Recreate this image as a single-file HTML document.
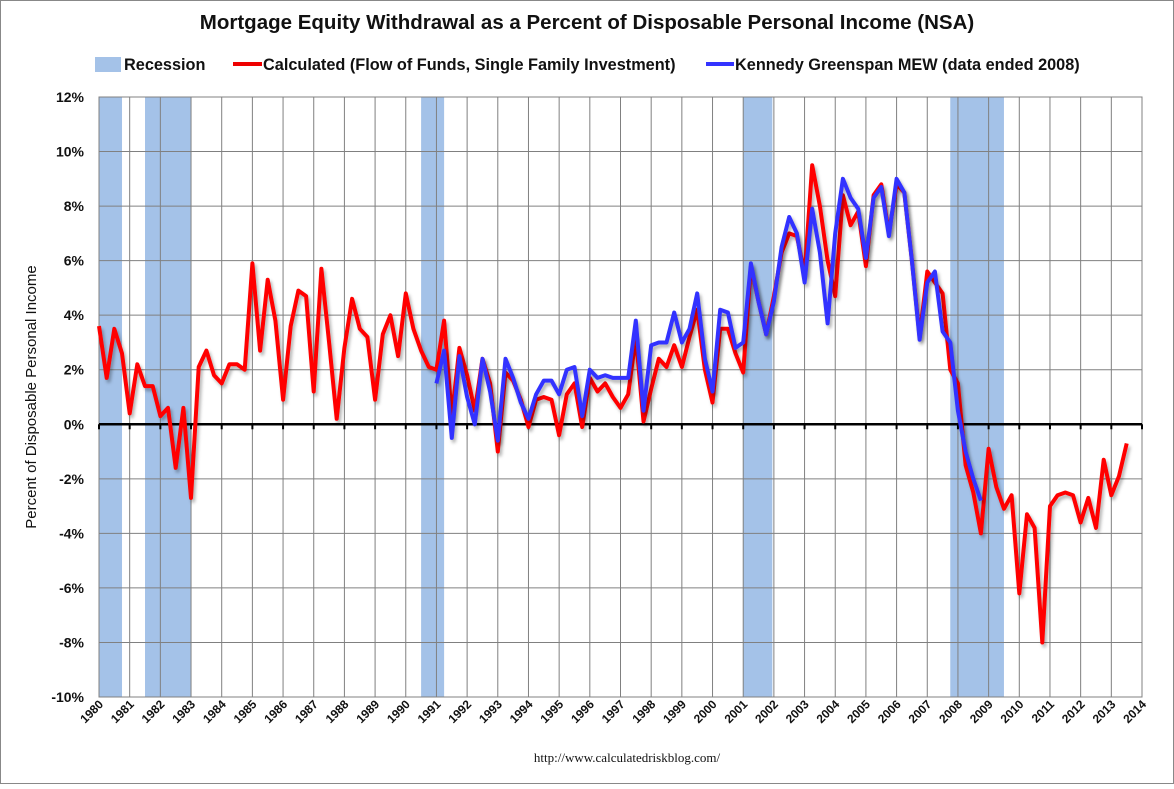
<!DOCTYPE html>
<html><head><meta charset="utf-8">
<style>
html,body{margin:0;padding:0;background:#fff;}
body{width:1174px;height:784px;overflow:hidden;font-family:"Liberation Sans",sans-serif;}
svg text{font-family:"Liberation Sans",sans-serif;}
</style></head>
<body>
<svg id="chart" width="1174" height="784" viewBox="0 0 1174 784" xmlns="http://www.w3.org/2000/svg">
<defs>
<filter id="sh" x="-5%" y="-5%" width="110%" height="110%"><feDropShadow dx="2" dy="3" stdDeviation="1.5" flood-color="#000" flood-opacity="0.3"/></filter>
</defs>
<rect x="0.5" y="0.5" width="1173" height="783" fill="#fff" stroke="#888"/>
<text x="587" y="29" text-anchor="middle" font-size="20.5" font-weight="bold" fill="#111">Mortgage Equity Withdrawal as a Percent of Disposable Personal Income (NSA)</text>
<g>
 <g><rect x="95" y="57" width="26" height="15" fill="#a4c2e8"/><text x="124" y="70" font-size="16.3" font-weight="bold" fill="#111">Recession</text></g>
 <g><line x1="233" y1="64" x2="262" y2="64" stroke="#e00" stroke-width="4"/><text x="263" y="70" font-size="16.3" font-weight="bold" fill="#111">Calculated (Flow of Funds, Single Family Investment)</text></g>
 <g><line x1="706" y1="64" x2="734" y2="64" stroke="#33f" stroke-width="4"/><text x="735" y="70" font-size="16.3" font-weight="bold" fill="#111">Kennedy Greenspan MEW (data ended 2008)</text></g>
</g>
<text transform="translate(36,397) rotate(-90)" text-anchor="middle" font-size="15" fill="#111">Percent of Disposable Personal Income</text>
<text x="627" y="762" text-anchor="middle" font-size="13" fill="#111" style="font-family:'Liberation Serif',serif">http://www.calculatedriskblog.com/</text>
<g id="recessions"></g>
<g id="grid"></g>
<g id="axes"></g>
<g id="series"></g>
</svg>
<script>
const years = [1980,1981,1982,1983,1984,1985,1986,1987,1988,1989,1990,1991,1992,1993,1994,1995,1996,1997,1998,1999,2000,2001,2002,2003,2004,2005,2006,2007,2008,2009,2010,2011,2012,2013,2014];
const yTicks = [12,10,8,6,4,2,0,-2,-4,-6,-8,-10];
const recessionStarts = [1980.0,1981.5,1990.5,2001.0,2007.75];
const recessionEnds = [1980.75,1983.0,1991.25,2001.95,2009.5];
const calcStart = 1980.0;
const calculated = [
3.6,1.7,3.5,2.6, 0.4,2.2,1.4,1.4, 0.3,0.6,-1.6,0.6, -2.7,2.1,2.7,1.8,
1.5,2.2,2.2,2.0, 5.9,2.7,5.3,3.8, 0.9,3.6,4.9,4.7, 1.2,5.7,3.0,0.2,
2.8,4.6,3.5,3.2, 0.9,3.3,4.0,2.5, 4.8,3.5,2.7,2.1, 2.0,3.8,0.3,2.8,
1.8,0.5,2.4,1.5, -1.0,1.9,1.6,0.9, -0.1,0.9,1.0,0.9, -0.4,1.1,1.5,-0.1,
1.7,1.2,1.5,1.0, 0.6,1.1,3.2,0.1, 1.3,2.4,2.1,2.9, 2.1,3.2,4.2,2.0,
0.8,3.5,3.5,2.6, 1.9,5.8,4.5,3.3, 4.7,6.3,7.0,6.9, 5.5,9.5,8.0,6.0,
4.7,8.4,7.3,7.8, 5.8,8.4,8.8,7.0, 8.8,8.5,6.0,3.2, 5.6,5.2,4.8,2.0,
1.5,-1.5,-2.5,-4.0, -0.9,-2.3,-3.1,-2.6, -6.2,-3.3,-3.8,-8.0, -3.0,-2.6,-2.5,-2.6,
-3.6,-2.7,-3.8,-1.3, -2.6,-1.9,-0.7];
const kgStart = 1991.0;
const kennedyGreenspan = [
1.5,2.7,-0.5,2.5, 1.0,0.0,2.4,1.2, -0.6,2.4,1.7,0.8, 0.2,1.1,1.6,1.6,
1.1,2.0,2.1,0.3, 2.0,1.7,1.8,1.7, 1.7,1.7,3.8,0.5, 2.9,3.0,3.0,4.1,
3.0,3.5,4.8,2.4, 1.2,4.2,4.1,2.8, 3.0,5.9,4.5,3.3, 4.5,6.5,7.6,7.0,
5.2,7.9,6.3,3.7, 7.0,9.0,8.3,7.9, 6.1,8.3,8.7,6.9, 9.0,8.5,6.0,3.1,
5.2,5.6,3.4,3.0, 0.5,-1.0,-2.0,-2.8];

const NS="http://www.w3.org/2000/svg";
const L=99,R=1142,T=97,B=697,Y0=1980,Y1=2014,VMAX=12,VMIN=-10;
const xs=t=>L+(t-Y0)/(Y1-Y0)*(R-L);
const ys=v=>T+(VMAX-v)/(VMAX-VMIN)*(B-T);
function mk(tag,attrs,parent){const e=document.createElementNS(NS,tag);for(const k in attrs)e.setAttribute(k,attrs[k]);parent.appendChild(e);return e;}
const gRec=document.getElementById('recessions'),gGrid=document.getElementById('grid'),gAx=document.getElementById('axes'),gS=document.getElementById('series');
recessionStarts.forEach((s,i)=>{
 const r=mk('rect',{x:xs(s),y:T,width:xs(recessionEnds[i])-xs(s),height:B-T,fill:'#a4c2e8'},gRec);
 
 
});
mk('rect',{x:L,y:T,width:R-L,height:B-T,fill:'none',stroke:'#808080','stroke-width':1},gGrid);
yTicks.forEach(v=>{
 const l=mk('line',{x1:L,x2:R,y1:ys(v),y2:ys(v),stroke:'#808080','stroke-width':1},gGrid);
 
 
 const t=mk('text',{x:L-15,y:ys(v)+5,'text-anchor':'end','font-size':14,'font-weight':'bold',fill:'#111'},gAx);
 t.textContent=v+'%';
 
 
});
years.forEach(y=>{
 const x=xs(y);
 const l=mk('line',{x1:x,x2:x,y1:T,y2:B,stroke:'#808080','stroke-width':1},gGrid);
 
 
 mk('line',{x1:x,x2:x,y1:ys(0),y2:ys(0)+5,stroke:'#000','stroke-width':2},gAx);
 const t=mk('text',{transform:`translate(${x+5},${B+8}) rotate(-45)`,'text-anchor':'end','font-size':12,'font-weight':'bold',fill:'#111'},gAx);
 t.textContent=y;
 
 
});
const zl=mk('line',{x1:L,x2:R,y1:ys(0),y2:ys(0),stroke:'#000','stroke-width':2.5},gAx);


function line(arr,start,color,name){
 const pts=arr.map((v,i)=>xs(start+i*0.25).toFixed(1)+','+ys(v).toFixed(1)).join(' ');
 const p=mk('polyline',{points:pts,fill:'none',stroke:color,'stroke-width':4,'stroke-linejoin':'round',filter:'url(#sh)'},gS);
 
 
}
line(calculated,calcStart,'#f00','calculated-line');
line(kennedyGreenspan,kgStart,'#3333ff','kennedy-greenspan-line');
</script>
</body></html>
